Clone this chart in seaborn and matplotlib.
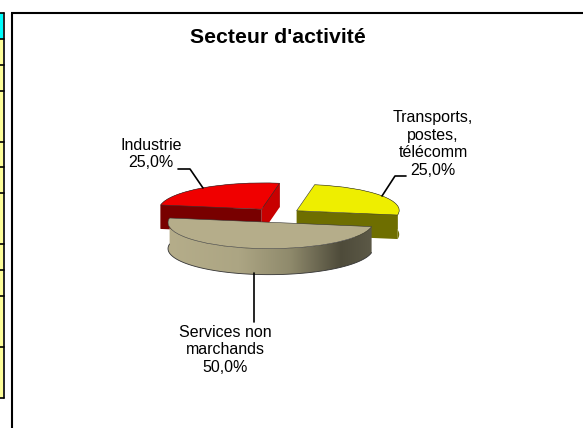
import numpy as np
import matplotlib.pyplot as plt
import seaborn as sns
from matplotlib.colors import LinearSegmentedColormap
from matplotlib.patches import Polygon
from matplotlib.transforms import Affine2D

sns.set_style("white")
plt.rcParams['font.family'] = ['Liberation Sans', 'DejaVu Sans']
plt.rcParams['text.color'] = 'black'

# parts du secteur d'activite
secteurs = ["Industrie", "Transports, postes,\ntélécomm", "Services non\nmarchands"]
parts = [25.0, 25.0, 50.0]
couleurs = ["#f00000", "#eeee00", "#b5ad8a"]
faces = ["#780000", "#6e6e00", "#b5ad8a"]
faces2 = ["#c80000", "#6e6e00", "#b5ad8a"]
ecarts = [0.245, 0.245, 0.30]
lignes_tableau = [39, 65, 91, 142, 167, 193, 244, 270, 296, 347, 398]

fig = plt.figure(figsize=(5.83, 4.28), dpi=100)
ax = fig.add_axes([0, 0, 1, 1])

wedges, _ = ax.pie(parts, colors=couleurs, explode=ecarts, startangle=180, counterclock=False)
ax.set_aspect('auto')
ax.set_xlim(0, 583)
ax.set_ylim(428, 0)
ax.axis('off')

# la tarte est aplatie et cisaillee pour faire le faux 3D
aplat = Affine2D.from_values(101, 4.3, 18, -26, 276, 214.5)
prof = 24


def arc(w, n=80):
    t = np.radians(np.linspace(w.theta1, w.theta2, n))
    pts = np.column_stack([w.center[0] + w.r * np.cos(t), w.center[1] + w.r * np.sin(t)])
    return aplat.transform(pts)


def bande(p, d=prof):
    return np.vstack([p, (p + [0, d])[::-1]])


for i, w in enumerate(wedges):
    if i == 2:
        continue
    a = arc(w)
    c = aplat.transform([w.center])[0]
    ax.add_patch(Polygon(bande(a), fc=faces[i], ec="none", zorder=2))
    # a[0] = bord droit du secteur, a[-1] = bord gauche
    if i == 0:
        ax.add_patch(Polygon(bande(np.array([c, a[0]])), fc=faces2[0], ec="none", zorder=3))
        ax.add_patch(Polygon(bande(np.array([a[-1], c])), fc=faces[0], ec="none", zorder=3))
    else:
        ax.add_patch(Polygon(bande(np.array([c, a[0]])), fc=faces[1], ec="none", zorder=3))

# cote du secteur beige avec degrade
w = wedges[2]
a = arc(w)
cote = Polygon(bande(a, prof + 2), fc="none", ec="none", transform=ax.transData)
ax.add_patch(cote)
cmap = LinearSegmentedColormap.from_list("beige", [(0, "#b5ad8a"), (0.35, "#aca583"), (0.6, "#8f8a6c"),
                                                   (0.85, "#4e4b3a"), (1, "#5c5947")])
im = ax.imshow(np.linspace(0, 1, 256)[None, :], cmap=cmap, extent=(a[:, 0].min(), a[:, 0].max(), 290, 200),
               aspect='auto', zorder=5)
im.set_clip_path(cote)
ax.set_xlim(0, 583)
ax.set_ylim(428, 0)
ax.plot(a[:, 0], a[:, 1] + prof + 2, color="#333333", lw=0.6, zorder=6)

# dessus des secteurs
for i, w in enumerate(wedges):
    w.set_transform(aplat + ax.transData)
    w.set_zorder(4 if i < 2 else 7)
    w.set_edgecolor("#333333")
    w.set_linewidth(0.4)

# traits de rappel
ax.plot([178, 190, 203], [169, 169, 188], color="black", lw=1.2, zorder=8)
ax.plot([406, 395, 382], [176, 176, 196], color="black", lw=1.2, zorder=8)
ax.plot([254, 254], [273, 322], color="black", lw=1.2, zorder=8)

ax.text(151, 154, "Industrie\n25,0%", ha="center", va="center", fontsize=11.5, linespacing=1.22)
ax.text(433, 144, "Transports,\npostes,\ntélécomm\n25,0%", ha="center", va="center", fontsize=11.5, linespacing=1.22)
ax.text(225, 350, "Services non\nmarchands\n50,0%", ha="center", va="center", fontsize=11.5, linespacing=1.22)
ax.text(278, 37, "Secteur d'activité", ha="center", va="center", fontsize=15.3, fontweight="bold")

# cadre du graphique
ax.plot([12, 12], [428, 13.3], color="black", lw=1.5, solid_capstyle="butt", zorder=8)
ax.plot([11.3, 583], [13.3, 13.3], color="black", lw=1.5, solid_capstyle="butt", zorder=8)

# bout de tableau a gauche
ax.fill_between([0, 3.3], 13, 39, color="#00ffff", lw=0)
ax.fill_between([0, 3.3], 39, 398, color="#ffff99", lw=0)
ax.plot([3.5, 3.5], [13, 398], color="black", lw=1.2)
ax.plot([0, 3.5], [13, 13], color="black", lw=1.2)
for y in lignes_tableau:
    ax.plot([0, 3.5], [y, y], color="black", lw=1.2)

fig.savefig("out.png", dpi=100)
